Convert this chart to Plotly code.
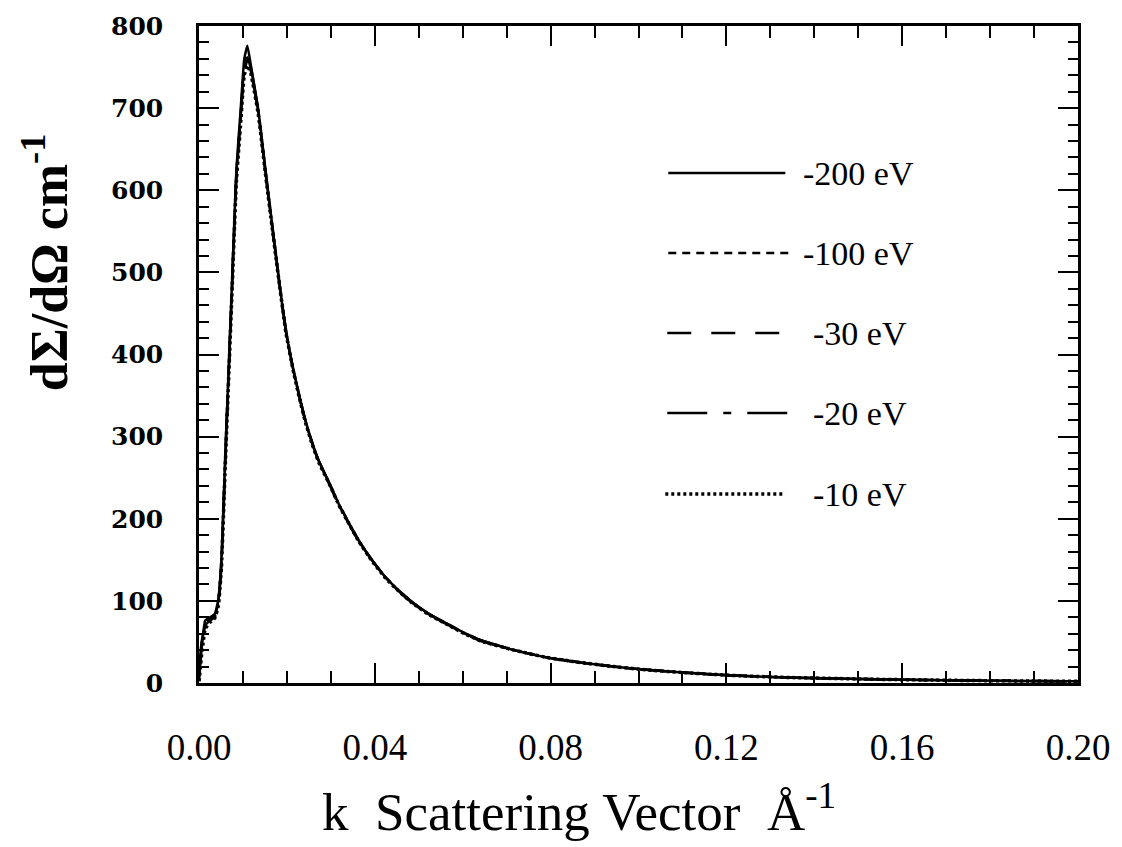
import plotly.graph_objects as go

# ---- data ----
k = [0.0, 0.0002, 0.0006, 0.0010, 0.0014, 0.0025, 0.0036, 0.0044, 0.0051, 0.0060,
     0.0068, 0.0076, 0.0085, 0.0095, 0.0103, 0.0110, 0.0118, 0.0135, 0.0151, 0.0167,
     0.0183, 0.0198, 0.0213, 0.0228, 0.0243, 0.0258, 0.0273, 0.0296, 0.0318, 0.0341,
     0.0363, 0.0393, 0.0424, 0.0454, 0.0484, 0.0521, 0.0559, 0.0597, 0.0642, 0.0717,
     0.0792, 0.0867, 0.0943, 0.1018, 0.1093, 0.1169, 0.1244, 0.1357, 0.1540, 0.1760, 0.2000]

s200 = [5, 18, 42, 62, 76, 80, 84, 102, 150, 280, 390, 500, 625, 700, 760, 776, 752, 698, 626, 556,
        487, 428, 386, 350, 318, 292, 270, 244, 218, 195, 174, 150, 129, 113, 99, 85, 74, 63, 52, 40,
        31, 25, 20, 16, 13, 10.5, 8.5, 6.5, 4.5, 3, 2]
s100 = [8, 25, 48, 60, 72, 78, 82, 98, 145, 275, 385, 495, 618, 690, 745, 758, 745, 694, 622, 553,
        486, 427, 385, 349, 317, 291, 269, 243, 217, 194, 173, 150, 129, 112, 98, 84, 73, 62, 51, 40,
        31, 25, 20, 16, 13, 10.5, 8.5, 6.5, 4.5, 3, 2]
s30 = [6, 22, 45, 58, 70, 76, 80, 96, 142, 272, 382, 492, 615, 688, 748, 762, 748, 695, 623, 554,
       486, 427, 385, 349, 317, 291, 269, 243, 217, 194, 173, 150, 129, 112, 98, 84, 73, 62, 51, 40,
       31, 25, 20, 16, 13, 10.5, 8.5, 6.5, 4.5, 3, 2]
s20 = [10, 28, 50, 63, 73, 79, 83, 100, 148, 278, 387, 497, 620, 693, 752, 766, 750, 696, 624, 555,
       487, 428, 386, 350, 318, 292, 270, 244, 218, 195, 174, 150, 129, 113, 99, 85, 74, 63, 52, 40,
       31, 25, 20, 16, 13, 10.5, 8.5, 6.5, 4.5, 3, 2]
s10 = [2, 12, 35, 52, 66, 74, 79, 94, 140, 268, 378, 488, 610, 683, 740, 752, 742, 692, 621, 552,
       485, 426, 384, 348, 316, 290, 268, 243, 217, 194, 173, 149, 128, 112, 98, 84, 73, 62, 51, 40,
       31, 25, 20, 16, 13, 10.5, 8.5, 6.5, 4.5, 3, 2]

series_names = ["-200 eV", "-100 eV", "-30 eV", "-20 eV", "-10 eV"]
series_values = [s200, s100, s30, s20, s10]
x_tickvals = [0.0, 0.04, 0.08, 0.12, 0.16, 0.20]
x_ticktext = ["0.00", "0.04", "0.08", "0.12", "0.16", "0.20"]
y_tickvals = [0, 100, 200, 300, 400, 500, 600, 700, 800]

# ---- styles ----
dashes = ["solid", "8px,6px", "24px,20px", "40px,16px,8px,16px", "3px,3px"]
widths = [2.5, 2.5, 2.5, 2.5, 3.5]

fig = go.Figure()
for name, vals, d, w in zip(series_names, series_values, dashes, widths):
    fig.add_trace(go.Scatter(x=k, y=vals, mode="lines", name=name,
                             line=dict(color="black", width=w, dash=d,
                                       shape="spline", smoothing=0.4),
                             showlegend=False))

# plot-area geometry in pixels (for the hand-drawn legend)
L, R, T, B = 199, 1085, 26, 683
def px(xp): return (xp - L) / (R - L)
def py(yp): return (B - yp) / (B - T)

leg_rows = [173, 253, 333, 413, 494]
leg_x0 = [672, 672, 671, 671, 669]
leg_x1 = [790, 795, 787, 792, 790]
leg_tx = [806, 806, 816, 816, 816]
for i, name in enumerate(series_names):
    fig.add_shape(type="line", xref="paper", yref="paper",
                  x0=px(leg_x0[i]), x1=px(leg_x1[i]), y0=py(leg_rows[i]), y1=py(leg_rows[i]),
                  line=dict(color="black", width=widths[i], dash=dashes[i]))
    fig.add_annotation(xref="paper", yref="paper", x=px(leg_tx[i]), y=py(leg_rows[i]),
                       text=name, showarrow=False, xanchor="left", yanchor="middle",
                       font=dict(family="Liberation Serif", size=34, color="black"))

# axis titles
fig.add_annotation(xref="paper", yref="paper", x=px(582), y=py(808),
                   text="k  Scattering Vector  Å<sup>-1</sup>", showarrow=False,
                   xanchor="center", yanchor="middle",
                   font=dict(family="Liberation Serif", size=53, color="black"))
fig.add_annotation(xref="paper", yref="paper", x=px(44), y=py(262),
                   text="<b>dΣ/dΩ cm<sup>-1</sup></b>", showarrow=False, textangle=-90,
                   xanchor="center", yanchor="middle",
                   font=dict(family="Liberation Serif", size=52, color="black"))

axis_common = dict(showgrid=False, zeroline=False, showline=True, linecolor="black",
                   linewidth=2.5, mirror="allticks", ticks="inside", tickcolor="black",
                   tickwidth=2)
fig.update_xaxes(range=[0, 0.2], tickvals=x_tickvals, ticktext=x_ticktext, ticklen=20,
                 tickfont=dict(family="Liberation Serif", size=37, color="black"),
                 ticklabelstandoff=30,
                 minor=dict(dtick=0.01, tick0=0, ticklen=12, ticks="inside",
                            tickcolor="black", tickwidth=2),
                 **axis_common)
fig.update_yaxes(range=[0, 800], tickvals=y_tickvals, ticklen=20,
                 tickfont=dict(family="DejaVu Serif", size=25, color="black", weight="bold"),
                 ticklabelstandoff=28,
                 minor=dict(dtick=20, tick0=0, ticklen=10, ticks="inside",
                            tickcolor="black", tickwidth=2),
                 **axis_common)

fig.update_layout(width=1122, height=847, plot_bgcolor="white", paper_bgcolor="white",
                  margin=dict(l=L, r=1122 - R, t=T, b=847 - B), showlegend=False)

fig.write_html("out.html")
